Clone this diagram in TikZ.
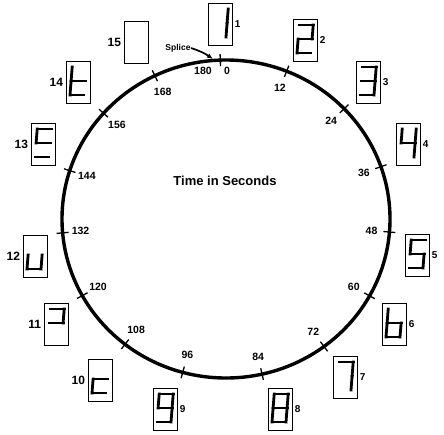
\documentclass[tikz,border=0pt]{standalone}
\usepackage{fontspec}
\setmainfont{Liberation Sans}
\usetikzlibrary{arrows.meta, positioning, calc}
\tikzset{
  every picture/.style={font=\bfseries, line width=1pt},
  ring/.style={line width=3.4pt},
  tickmark/.style={line width=1.3pt},
  ticklbl/.style={font=\bfseries\fontsize{10.5}{10.5}\selectfont, inner sep=0pt},
  dispbox/.style={draw, line width=0.9pt, minimum width=24pt, minimum height=42pt, inner sep=0pt},
  numlbl/.style={font=\bfseries\fontsize{10}{10}\selectfont, inner sep=0pt},
  segm/.style={line width=2.8pt, line cap=rect},
  title/.style={font=\bfseries\fontsize{13}{13}\selectfont},
  seg a/.style={insert path={(-5.8,-15) -- (8.2,-15)}},
  seg b/.style={insert path={(8.2,-15) -- (7.1,-1)}},
  seg c/.style={insert path={(7.1,-1) -- (6,13)}},
  seg d/.style={insert path={(-8,13) -- (6,13)}},
  seg e/.style={insert path={(-6.9,-1) -- (-8,13)}},
  seg f/.style={insert path={(-5.8,-15) -- (-6.9,-1)}},
  seg g/.style={insert path={(-6.9,-1) -- (7.1,-1)}},
}

\begin{document}
\begin{tikzpicture}[x=1pt, y=-1pt]
  \useasboundingbox (0,0) rectangle (444,434);
  \coordinate (c) at (226,219);
  \draw[ring] (c) ellipse [x radius=164, y radius=159];

  % time marks
  \foreach \v/\a in {12/21.7, 24/46.1, 36/70.8, 48/94.7, 60/118.9, 72/143.3, 84/167.3, 96/195.3,
                     108/218, 120/241.2, 132/265, 144/287.7, 156/311.7, 168/334.3} {
    \draw[tickmark] ($(c)+({170*sin(\a)},{-165*cos(\a)})$) -- ($(c)+({158*sin(\a)},{-153*cos(\a)})$);
    \node[ticklbl] (t\v) at ($(c)+({146*sin(\a)},{-141*cos(\a)})$) {\v};
  }
  \draw[tickmark] ($(c)+({170*sin(-2)},{-165*cos(-2)})$) -- ($(c)+({158*sin(-2)},{-153*cos(-2)})$);
  \node[ticklbl] (t180) at (203,71) {180};
  \node[ticklbl] (t0) at (227,71) {0};

  \node[title] (ttl) at (225,181) {Time in Seconds};

  \node[font=\bfseries\fontsize{8.5}{8.5}\selectfont, inner sep=0pt] (splice) at (178,48) {Splice};
  \coordinate (splicept) at (213,59);
  \draw[line width=1.7pt, -{Latex[length=6pt, width=5pt]}] (splice.east) to[bend left=8] (splicept);

  % displays
  \foreach \k/\x/\y in {1/220/24, 2/305/40, 3/368/82, 4/408/144, 5/417/255, 6/394/324,
                        7/345/377, 8/280/409, 9/165/409} {
    \node[dispbox] (d\k) at (\x,\y) {};
    \node[numlbl, right=2pt of d\k] (n\k) {\k};
  }
  \foreach \k/\x/\y in {10/100/380, 11/56/324, 12/35/256, 13/43/144, 14/78/82, 15/136/42} {
    \node[dispbox] (d\k) at (\x,\y) {};
    \node[numlbl, font=\bfseries\fontsize{12}{12}\selectfont, left=2pt of d\k] (n\k) {\k};
  }

  \foreach \k/\segs in {1/{b,c}, 2/{a,b,g,e,d}, 3/{a,b,g,c,d}, 4/{f,g,b,c}, 5/{a,f,g,c,d},
                        6/{f,e,d,c,g}, 7/{a,b,c}, 8/{a,b,c,d,e,f,g}, 9/{a,b,c,d,f,g},
                        10/{g,e,d}, 11/{a,b,g}, 12/{e,d,c}, 13/{a,f,g,d}, 14/{f,e,g,d}} {
    \begin{scope}[shift={(d\k.center)}]
      \foreach \s in \segs {\draw[segm, seg \s];}
    \end{scope}
  }
\end{tikzpicture}
\end{document}
